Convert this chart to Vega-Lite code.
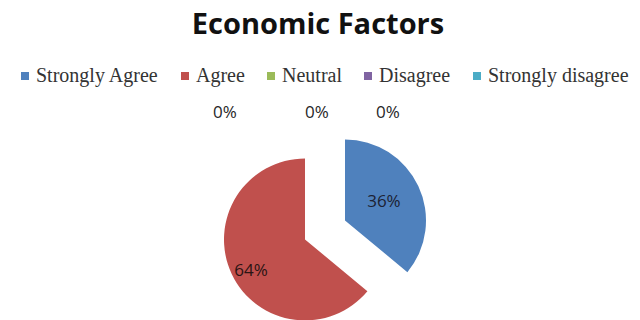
{
  "$schema": "https://vega.github.io/schema/vega-lite/v6.json",
  "autosize": {"type": "none"},
  "padding": {"left": 5, "top": 100, "right": 0, "bottom": 0},
  "width": 640,
  "height": 260,
  "background": "white",
  "title": {
    "text": "Economic Factors",
    "font": "Open Sans",
    "fontWeight": "bold",
    "fontSize": 29,
    "color": "#111111",
    "anchor": "middle",
    "dx": -7,
    "dy": -22
  },
  "data": {
    "values": [
      {"response": "Strongly Agree", "pct": 0.36, "order": 1},
      {"response": "Agree", "pct": 0.64, "order": 2},
      {"response": "Neutral", "pct": 0, "order": 3},
      {"response": "Disagree", "pct": 0, "order": 4},
      {"response": "Strongly disagree", "pct": 0, "order": 5}
    ]
  },
  "encoding": {
    "theta": {"field": "pct", "type": "quantitative", "stack": true},
    "order": {"field": "order", "type": "quantitative"}
  },
  "layer": [
    {
      "mark": {"type": "arc", "radius": 81, "xOffset": 20, "yOffset": -9.5},
      "encoding": {
        "color": {
          "field": "response", "type": "nominal",
          "scale": {
            "domain": ["Strongly Agree", "Agree", "Neutral", "Disagree", "Strongly disagree"],
            "range": ["#4F81BD", "#C0504D", "#9BBB59", "#8064A2", "#4BACC6"]
          },
          "legend": {
            "title": null,
            "orient": "none",
            "legendX": 10,
            "legendY": -34,
            "direction": "horizontal",
            "symbolType": "square",
            "symbolSize": 64,
            "symbolStrokeWidth": 0,
            "labelFont": "Liberation Serif",
            "labelFontSize": 20,
            "labelColor": "#333333",
            "labelOffset": 1,
            "columnPadding": 16,
            "labelLimit": 300
          }
        },
        "opacity": {"condition": {"test": "datum.response === 'Strongly Agree'", "value": 1}, "value": 0}
      }
    },
    {
      "mark": {"type": "arc", "radius": 81, "xOffset": -20, "yOffset": 9.5},
      "encoding": {
        "color": {"field": "response", "type": "nominal"},
        "opacity": {"condition": {"test": "datum.response === 'Agree'", "value": 1}, "value": 0}
      }
    },
    {
      "mark": {"type": "text", "radius": 43, "xOffset": 20, "yOffset": -9.5, "font": "Open Sans", "fontSize": 17, "color": "#1c2233"},
      "encoding": {
        "detail": {"field": "response", "type": "nominal"},
        "text": {"field": "pct", "type": "quantitative", "format": ".0%"},
        "opacity": {"condition": {"test": "datum.response === 'Strongly Agree'", "value": 1}, "value": 0}
      }
    },
    {
      "mark": {"type": "text", "radius": 63, "xOffset": -20, "yOffset": 9.5, "dx": 3, "dy": 5, "font": "Open Sans", "fontSize": 17, "color": "#2a1414"},
      "encoding": {
        "detail": {"field": "response", "type": "nominal"},
        "text": {"field": "pct", "type": "quantitative", "format": ".0%"},
        "opacity": {"condition": {"test": "datum.response === 'Agree'", "value": 1}, "value": 0}
      }
    },
    {
      "mark": {"type": "text", "radius": 117, "dx": -100, "font": "Open Sans", "fontSize": 17, "color": "#262626"},
      "encoding": {
        "detail": {"field": "response", "type": "nominal"},
        "text": {"field": "pct", "type": "quantitative", "format": ".0%"},
        "opacity": {"condition": {"test": "datum.response === 'Neutral'", "value": 1}, "value": 0}
      }
    },
    {
      "mark": {"type": "text", "radius": 117, "dx": -8, "font": "Open Sans", "fontSize": 17, "color": "#262626"},
      "encoding": {
        "detail": {"field": "response", "type": "nominal"},
        "text": {"field": "pct", "type": "quantitative", "format": ".0%"},
        "opacity": {"condition": {"test": "datum.response === 'Disagree'", "value": 1}, "value": 0}
      }
    },
    {
      "mark": {"type": "text", "radius": 117, "dx": 63, "font": "Open Sans", "fontSize": 17, "color": "#262626"},
      "encoding": {
        "detail": {"field": "response", "type": "nominal"},
        "text": {"field": "pct", "type": "quantitative", "format": ".0%"},
        "opacity": {"condition": {"test": "datum.response === 'Strongly disagree'", "value": 1}, "value": 0}
      }
    }
  ],
  "config": {"view": {"stroke": null}}
}
